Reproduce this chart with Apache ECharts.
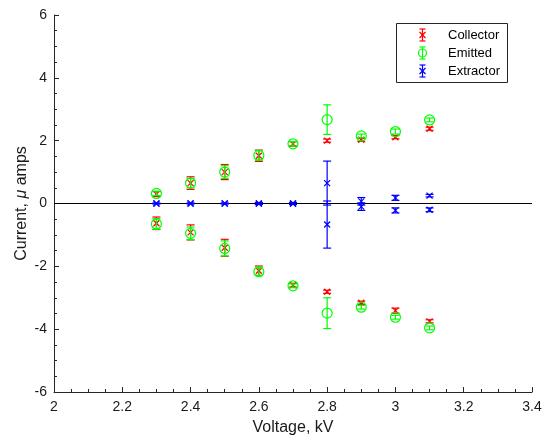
<!DOCTYPE html>
<html><head><meta charset="utf-8">
<script src="https://cdn.jsdelivr.net/npm/echarts@6/dist/echarts.min.js"></script>
<style>html,body{margin:0;padding:0;background:#fff}#c{width:548px;height:443px}</style>
</head><body><div id="c"></div>
<script>
var voltages = [2.3, 2.4, 2.5, 2.6, 2.7, 2.8, 2.9, 3.0, 3.1];
var collectorUpper    = [0.30, 0.65, 1.00, 1.52, 1.90, 2.00, 2.03, 2.11, 2.38];
var collectorUpperErr = [0.08, 0.20, 0.24, 0.18, 0.07, 0.05, 0.05, 0.05, 0.05];
var collectorLower    = [-0.63, -0.92, -1.41, -2.14, -2.60, -2.81, -3.16, -3.41, -3.75];
var collectorLowerErr = [0.20, 0.24, 0.27, 0.15, 0.06, 0.05, 0.05, 0.08, 0.05];
var emittedUpper      = [0.32, 0.65, 1.00, 1.53, 1.90, 2.67, 2.15, 2.29, 2.66];
var emittedUpperErr   = [0.07, 0.15, 0.20, 0.15, 0.07, 0.47, 0.06, 0.08, 0.06];
var emittedLower      = [-0.65, -0.95, -1.43, -2.17, -2.62, -3.49, -3.30, -3.62, -3.96];
var emittedLowerErr   = [0.17, 0.20, 0.24, 0.12, 0.06, 0.49, 0.06, 0.06, 0.06];
var extractorUpper    = [0, 0, 0, 0, 0, 0.65, 0.07, 0.18, 0.25];
var extractorUpperErr = [0.01, 0.01, 0.01, 0.03, 0.03, 0.70, 0.12, 0.08, 0.04];
var extractorLower    = [0, 0, 0, 0, 0, -0.67, -0.10, -0.22, -0.20];
var extractorLowerErr = [0.01, 0.01, 0.01, 0.03, 0.03, 0.75, 0.12, 0.08, 0.06];
var xTicks = [2, 2.2, 2.4, 2.6, 2.8, 3, 3.2, 3.4];
var yTicks = [-6, -4, -2, 0, 2, 4, 6];

function build(vals, errs) {
  return voltages.map(function (v, i) { return [v, vals[i], errs[i]]; });
}
var FONT = 'Liberation Sans, Arial, sans-serif';

function makeRender(color, marker) {
  return function (params, api) {
    var x = api.value(0), y = api.value(1), e = api.value(2);
    var c = api.coord([x, y]);
    var top = api.coord([x, y + e]);
    var bot = api.coord([x, y - e]);
    var cap = 4;
    var st = { stroke: color, lineWidth: 1.2, fill: null };
    var kids = [
      { type: 'line', shape: { x1: c[0], y1: top[1], x2: c[0], y2: bot[1] }, style: st },
      { type: 'line', shape: { x1: c[0] - cap, y1: top[1], x2: c[0] + cap, y2: top[1] }, style: st },
      { type: 'line', shape: { x1: c[0] - cap, y1: bot[1], x2: c[0] + cap, y2: bot[1] }, style: st }
    ];
    if (marker === 'circle') {
      kids.push({ type: 'circle', shape: { cx: c[0], cy: c[1], r: 5 }, style: st });
    } else {
      var s = 3;
      kids.push({ type: 'line', shape: { x1: c[0] - s, y1: c[1] - s, x2: c[0] + s, y2: c[1] + s }, style: st });
      kids.push({ type: 'line', shape: { x1: c[0] - s, y1: c[1] + s, x2: c[0] + s, y2: c[1] - s }, style: st });
    }
    return { type: 'group', children: kids };
  };
}

function series(name, data, color, marker) {
  return {
    name: name, type: 'custom', data: data,
    renderItem: makeRender(color, marker),
    encode: { x: 0, y: [1] }, clip: false, z: 3
  };
}

var chart = echarts.init(document.getElementById('c'), null, { renderer: 'canvas' });
var axisCommon = {
  axisLine: { show: true, onZero: false, lineStyle: { color: '#262626', width: 1 } },
  axisTick: { show: true, inside: true, length: 5, lineStyle: { color: '#262626' } },
  minorTick: { show: true, splitNumber: 4, length: 3, lineStyle: { color: '#262626' } },
  splitLine: { show: false },
  axisLabel: { color: '#1a1a1a', fontSize: 14, fontFamily: FONT }
};
chart.setOption({
  animation: false,
  backgroundColor: '#fff',
  grid: { left: 54, top: 15, right: 16, bottom: 51, containLabel: false, outerBoundsMode: 'none' },
  xAxis: Object.assign({}, axisCommon, {
    type: 'value', min: xTicks[0], max: xTicks[xTicks.length - 1], interval: 0.2,
    name: 'Voltage, kV', nameLocation: 'middle', nameGap: 28,
    nameTextStyle: { color: '#1a1a1a', fontSize: 16, fontFamily: FONT },
    axisLabel: Object.assign({}, axisCommon.axisLabel, { margin: 8, formatter: function (v) { return String(Math.round(v * 10) / 10); } })
  }),
  yAxis: Object.assign({}, axisCommon, {
    type: 'value', min: yTicks[0], max: yTicks[yTicks.length - 1], interval: 2,
    name: 'Current, {i|μ} amps', nameLocation: 'middle', nameGap: 24, nameMoveOverlap: false,
    nameTextStyle: { color: '#1a1a1a', fontSize: 16, fontFamily: FONT,
      rich: { i: { fontStyle: 'italic', fontSize: 16, fontFamily: FONT, color: '#1a1a1a' } } },
    axisLabel: Object.assign({}, axisCommon.axisLabel, { margin: 7 })
  }),
  series: [
    {
      type: 'line', data: [[xTicks[0], 0], [xTicks[xTicks.length - 1], 0]],
      symbol: 'none', lineStyle: { color: '#000', width: 1.2 }, z: 2, silent: true
    },
    series('Collector', build(collectorUpper, collectorUpperErr), '#ff0000', 'x'),
    series('Collector', build(collectorLower, collectorLowerErr), '#ff0000', 'x'),
    series('Emitted', build(emittedUpper, emittedUpperErr), '#00ff00', 'circle'),
    series('Emitted', build(emittedLower, emittedLowerErr), '#00ff00', 'circle'),
    series('Extractor', build(extractorUpper, extractorUpperErr), '#0000ff', 'x'),
    series('Extractor', build(extractorLower, extractorLowerErr), '#0000ff', 'x')
  ],
  graphic: (function () {
    var items = [{ type: 'rect', shape: { x: 396.5, y: 23.5, width: 111, height: 59 }, style: { fill: '#fff', stroke: '#262626', lineWidth: 1 }, z: 10 }];
    var entries = [['Collector', '#ff0000', 'x', 35], ['Emitted', '#00ff00', 'circle', 53], ['Extractor', '#0000ff', 'x', 71]];
    entries.forEach(function (en) {
      var cx = 422.5, cy = en[3], st = { stroke: en[1], lineWidth: 1.2, fill: null };
      items.push({ type: 'line', shape: { x1: cx, y1: cy - 6, x2: cx, y2: cy + 6 }, style: st, z: 11 });
      items.push({ type: 'line', shape: { x1: cx - 3, y1: cy - 6, x2: cx + 3, y2: cy - 6 }, style: st, z: 11 });
      items.push({ type: 'line', shape: { x1: cx - 3, y1: cy + 6, x2: cx + 3, y2: cy + 6 }, style: st, z: 11 });
      if (en[2] === 'circle') {
        items.push({ type: 'circle', shape: { cx: cx, cy: cy, r: 4 }, style: st, z: 11 });
      } else {
        items.push({ type: 'line', shape: { x1: cx - 3, y1: cy - 3, x2: cx + 3, y2: cy + 3 }, style: st, z: 11 });
        items.push({ type: 'line', shape: { x1: cx - 3, y1: cy + 3, x2: cx + 3, y2: cy - 3 }, style: st, z: 11 });
      }
      items.push({ type: 'text', x: 448, y: cy, style: { text: en[0], fill: '#000', font: '13px ' + FONT, textVerticalAlign: 'middle', verticalAlign: 'middle' }, z: 11 });
    });
    return items;
  })()
});
</script></body></html>
